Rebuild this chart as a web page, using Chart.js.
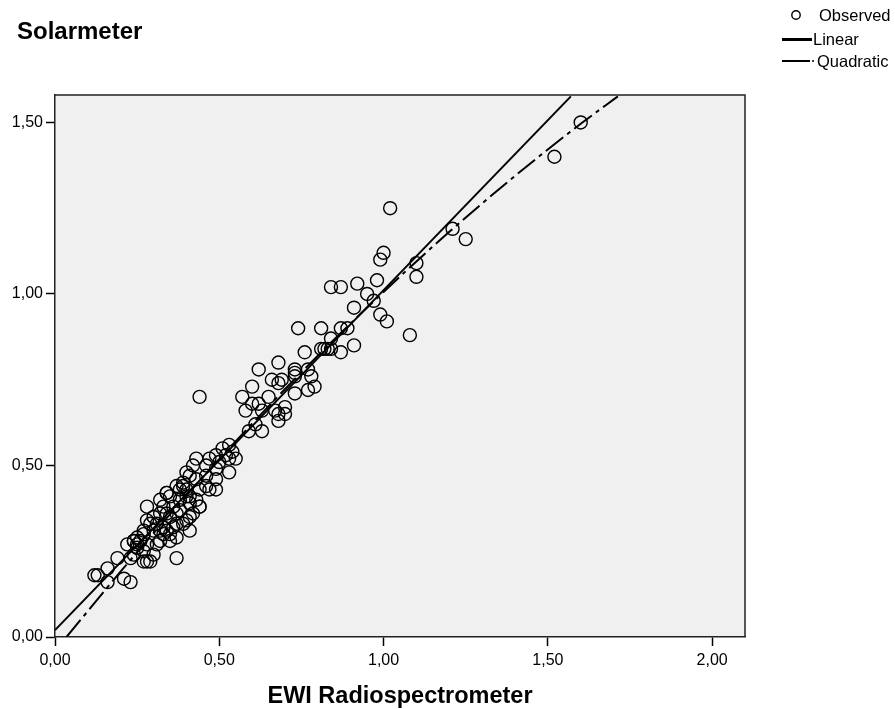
<!DOCTYPE html>
<html><head><meta charset="utf-8">
<script src="https://cdn.jsdelivr.net/npm/chart.js@4"></script>
<style>html,body{margin:0;padding:0;background:#fff}</style>
</head><body>
<canvas id="c" width="895" height="709"></canvas>
<script>
const chartTitle = 'Solarmeter';
const xAxisTitle = 'EWI Radiospectrometer';
const legendLabels = ['Observed', 'Linear', 'Quadratic'];
const xTicks = [0, 0.5, 1.0, 1.5, 2.0];
const yTicks = [0, 0.5, 1.0, 1.5];

const obsX = [1.60,1.52,1.02,1.21,1.25,1.00,0.99,1.10,1.10,0.98,0.92,0.84,0.87,0.95,0.97,0.91,0.99,1.01,1.08,0.74,
  0.81,0.87,0.89,0.84,0.91,0.76,0.87,0.81,0.82,0.83,0.84,0.68,0.62,0.73,0.73,0.73,0.77,0.78,0.79,0.77,
  0.73,0.66,0.69,0.68,0.60,0.57,0.65,0.44,0.60,0.62,0.58,0.63,0.67,0.68,0.70,0.70,0.68,0.59,0.63,0.61,
  0.53,0.51,0.54,0.53,0.55,0.52,0.43,0.46,0.42,0.40,0.53,0.49,0.49,0.46,0.47,0.41,0.37,0.39,0.39,0.40,
  0.34,0.33,0.28,0.44,0.36,0.38,0.40,0.41,0.38,0.28,0.30,0.29,0.27,0.33,0.33,0.35,0.37,0.22,0.24,0.25,
  0.25,0.27,0.28,0.30,0.37,0.28,0.29,0.19,0.16,0.21,0.23,0.13,0.12,0.16,0.32,0.34,0.35,0.31,0.37,0.40,
  0.42,0.43,0.41,0.44,0.35,0.31,0.32,0.27,0.24,0.47,0.49,0.50,
  0.27,0.23,0.24,0.25,0.26,0.30,0.32,0.34,0.34,0.44,0.41,0.32,0.35,0.38,0.43,0.46,0.49,0.37,0.39,0.36,0.41];
const obsY = [1.50,1.40,1.25,1.19,1.16,1.12,1.10,1.09,1.05,1.04,1.03,1.02,1.02,1.00,0.98,0.96,0.94,0.92,0.88,0.90,
  0.90,0.90,0.90,0.87,0.85,0.83,0.83,0.84,0.84,0.84,0.84,0.80,0.78,0.78,0.77,0.76,0.78,0.76,0.73,0.72,
  0.71,0.75,0.75,0.74,0.73,0.70,0.70,0.70,0.68,0.68,0.66,0.66,0.66,0.65,0.67,0.65,0.63,0.60,0.60,0.62,
  0.56,0.55,0.54,0.52,0.52,0.53,0.52,0.50,0.50,0.48,0.48,0.49,0.46,0.44,0.43,0.47,0.44,0.45,0.44,0.43,
  0.42,0.38,0.38,0.38,0.38,0.40,0.41,0.39,0.37,0.34,0.35,0.33,0.31,0.32,0.30,0.30,0.29,0.27,0.28,0.27,
  0.26,0.25,0.27,0.24,0.23,0.22,0.22,0.23,0.20,0.17,0.16,0.18,0.18,0.16,0.36,0.36,0.35,0.33,0.33,0.34,
  0.36,0.40,0.41,0.43,0.28,0.27,0.28,0.30,0.24,0.52,0.53,0.51,
  0.22,0.23,0.28,0.29,0.28,0.31,0.31,0.31,0.42,0.38,0.35,0.40,0.41,0.43,0.46,0.47,0.43,0.36,0.33,0.32,0.31];

const linX = [0, 1.57];
const linY = [0.02, 1.576];
const quadX = [0.035, 0.2, 0.4, 0.6, 0.8, 1.0, 1.2, 1.4, 1.6, 1.713];
const quadY = [0.0, 0.191, 0.412, 0.622, 0.820, 1.006, 1.181, 1.344, 1.496, 1.576];

const fmt = v => v.toFixed(2).replace('.', ',');
const pairs = (xs, ys) => xs.map((x, i) => ({x: x, y: ys[i]}));
const FONT = "'Liberation Sans', Arial, sans-serif";

const decor = {
  id: 'decor',
  beforeDraw(chart) {
    const {ctx, chartArea: a} = chart;
    ctx.save();
    ctx.fillStyle = '#f0f0f0';
    ctx.fillRect(a.left, a.top, a.right - a.left, a.bottom - a.top);
    ctx.restore();
  },
  afterDraw(chart) {
    const {ctx, chartArea: a} = chart;
    ctx.save();
    ctx.strokeStyle = '#222';
    ctx.lineWidth = 1.5;
    ctx.beginPath();
    ctx.moveTo(a.left, a.top); ctx.lineTo(a.right, a.top); ctx.lineTo(a.right, a.bottom);
    ctx.stroke();
    // title
    ctx.fillStyle = '#000';
    ctx.font = 'bold 24px ' + FONT;
    ctx.textBaseline = 'alphabetic';
    ctx.textAlign = 'left';
    ctx.fillText(chartTitle, 17, 39);
    // legend
    ctx.font = '16.5px ' + FONT;
    ctx.textBaseline = 'middle';
    ctx.lineWidth = 1.4;
    ctx.strokeStyle = '#000';
    ctx.beginPath(); ctx.arc(796, 15, 4.2, 0, Math.PI * 2); ctx.stroke();
    ctx.fillText(legendLabels[0], 819, 16.5);
    ctx.lineWidth = 3;
    ctx.beginPath(); ctx.moveTo(782, 39.5); ctx.lineTo(812, 39.5); ctx.stroke();
    ctx.fillText(legendLabels[1], 813, 40.5);
    ctx.lineWidth = 2;
    ctx.beginPath(); ctx.moveTo(782, 61); ctx.lineTo(810, 61); ctx.stroke();
    ctx.lineWidth = 1.5;
    ctx.beginPath(); ctx.moveTo(812, 61); ctx.lineTo(814, 61); ctx.stroke();
    ctx.fillText(legendLabels[2], 817, 62);
    ctx.restore();
  }
};

new Chart(document.getElementById('c'), {
  type: 'scatter',
  data: {
    datasets: [
      {label: legendLabels[0], data: pairs(obsX, obsY), pointRadius: 6.5, pointBorderWidth: 1.4,
       borderColor: '#000', backgroundColor: 'rgba(0,0,0,0)', pointHoverRadius: 6.5},
      {label: legendLabels[1], type: 'line', data: pairs(linX, linY), borderColor: '#000', borderWidth: 2,
       pointRadius: 0, fill: false},
      {label: legendLabels[2], type: 'line', data: pairs(quadX, quadY), borderColor: '#000', borderWidth: 2,
       borderDash: [22, 5, 4, 5], pointRadius: 0, fill: false, cubicInterpolationMode: 'monotone'}
    ]
  },
  options: {
    responsive: false, animation: false, devicePixelRatio: 1,
    layout: {padding: {top: 95, right: 150, left: 0, bottom: 0}},
    plugins: {legend: {display: false}, tooltip: {enabled: false}},
    scales: {
      x: {
        type: 'linear', min: 0, max: 2.1,
        afterBuildTicks: s => { s.ticks = xTicks.map(v => ({value: v})); },
        afterFit: s => { s.height = 72; },
        ticks: {callback: v => fmt(v), color: '#000', font: {family: FONT, size: 16}, padding: 5, maxRotation: 0, autoSkip: false},
        grid: {drawOnChartArea: false, color: '#000', tickLength: 9, tickWidth: 1.5},
        border: {color: '#222', width: 1.5},
        title: {display: true, text: xAxisTitle, color: '#000', font: {family: FONT, size: 23.5, weight: 'bold', lineHeight: 1}, padding: {top: 0, bottom: 1}}
      },
      y: {
        type: 'linear', min: 0, max: 1.58,
        afterBuildTicks: s => { s.ticks = yTicks.map(v => ({value: v})); },
        afterFit: s => { s.width = 55; },
        ticks: {callback: v => fmt(v), color: '#000', font: {family: FONT, size: 16}, padding: 3, autoSkip: false},
        grid: {drawOnChartArea: false, color: '#000', tickLength: 9, tickWidth: 1.5},
        border: {color: '#222', width: 1.5}
      }
    }
  },
  plugins: [decor]
});
</script>
</body></html>
